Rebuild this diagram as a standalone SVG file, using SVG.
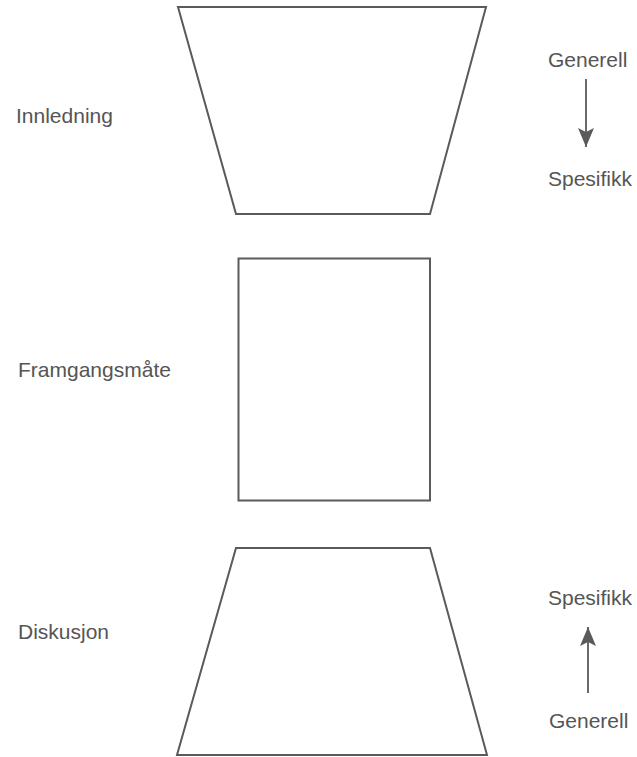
<svg xmlns="http://www.w3.org/2000/svg" width="637" height="757" viewBox="0 0 637 757">
<defs>
<style>
.shape{fill:none;stroke:#5a5a5a;stroke-width:2;stroke-linejoin:miter}
.lbl{font-family:"Liberation Sans",Arial,sans-serif;font-size:21px;fill:#555}
.conn{stroke:#5a5a5a;stroke-width:1.8;fill:none}
</style>
<marker id="ah" viewBox="0 0 19 16" refX="19" refY="8" markerWidth="19" markerHeight="16" markerUnits="userSpaceOnUse" orient="auto">
<path d="M0,0 L19,8 L0,16 L4,8 z" fill="#5a5a5a"/>
</marker>
</defs>
<rect width="637" height="757" fill="#fff"/>
<g id="innledning">
<polygon class="shape" points="178,7 486,7 430,214 236,214"/>
<text class="lbl" x="16" y="123">Innledning</text>
</g>
<g id="framgangsmate">
<rect class="shape" x="238.5" y="258.5" width="191.5" height="242"/>
<text class="lbl" x="18" y="377">Framgangsmåte</text>
</g>
<g id="diskusjon">
<polygon class="shape" points="236,548 430,548 487,755 177,755"/>
<text class="lbl" x="18" y="639">Diskusjon</text>
</g>
<g id="top-scale">
<text class="lbl" x="548" y="67">Generell</text>
<text class="lbl" x="548" y="186">Spesifikk</text>
</g>
<g id="bottom-scale">
<text class="lbl" x="548" y="605">Spesifikk</text>
<text class="lbl" x="549" y="728">Generell</text>
</g>
<g id="connectors">
<line class="conn" x1="586" y1="79" x2="586" y2="147" marker-end="url(#ah)"/>
<line class="conn" x1="588" y1="693" x2="588" y2="627" marker-end="url(#ah)"/>
</g>
</svg>
